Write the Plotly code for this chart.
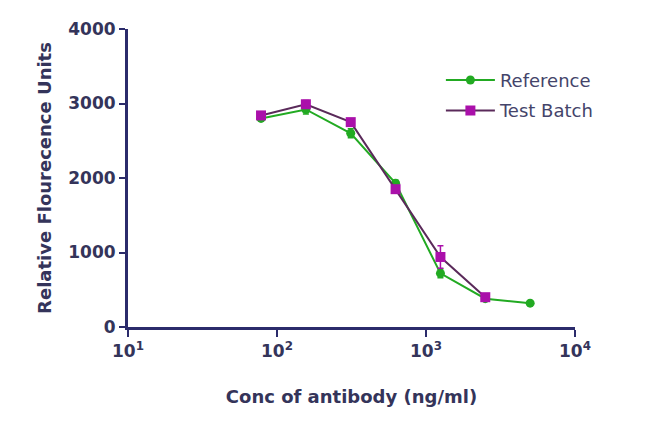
import plotly.graph_objects as go

conc_ref = [78.125, 156.25, 312.5, 625, 1250, 2500, 5000]
rfu_ref = [2800, 2920, 2600, 1930, 720, 380, 320]
err_ref = [30, 60, 60, 40, 60, 30, 20]

conc_test = [78.125, 156.25, 312.5, 625, 1250, 2500]
rfu_test = [2840, 2990, 2750, 1850, 940, 400]
err_test = [40, 50, 40, 40, 150, 30]

x_tickvals = [10, 100, 1000, 10000]
x_ticktext = ["10<sup>1</sup>", "10<sup>2</sup>", "10<sup>3</sup>", "10<sup>4</sup>"]
y_tickvals = [0, 1000, 2000, 3000, 4000]

GREEN = "#22aa22"
MAGENTA = "#aa10aa"
NAVY = "#2b2b6b"
TEXT = "#34345a"
FONT = "DejaVu Sans"

fig = go.Figure()
fig.add_trace(go.Scatter(
    x=conc_ref, y=rfu_ref, name="Reference", mode="lines+markers",
    line=dict(color=GREEN, width=2),
    marker=dict(symbol="circle", size=9, color=GREEN),
    error_y=dict(type="data", array=err_ref, color=GREEN, thickness=1.5, width=3),
    legendgroup="a",
))
fig.add_trace(go.Scatter(
    x=conc_test, y=rfu_test, name="Test Batch", mode="lines+markers",
    line=dict(color="#5a2a5a", width=2),
    marker=dict(symbol="square", size=10, color=MAGENTA),
    error_y=dict(type="data", array=err_test, color=MAGENTA, thickness=1.5, width=3),
    legendgroup="b",
))

fig.update_layout(
    width=650, height=433,
    margin=dict(l=128, r=75, t=29, b=106),
    paper_bgcolor="white", plot_bgcolor="white",
    font=dict(family=FONT, color=TEXT, size=16),
    showlegend=True,
    legend=dict(
        x=0.70, y=0.89, xanchor="left", yanchor="top",
        font=dict(family=FONT, size=18, color="#44446a"),
        bgcolor="rgba(0,0,0,0)", tracegroupgap=4, itemwidth=49,
    ),
    xaxis=dict(
        type="log", range=[1, 4],
        tickmode="array", tickvals=x_tickvals, ticktext=x_ticktext,
        showgrid=False, zeroline=False,
        showline=True, linecolor=NAVY, linewidth=3,
        ticks="outside", tickcolor=NAVY, tickwidth=2, ticklen=7,
        tickfont=dict(family=FONT, size=17, color=TEXT, weight="bold"),
        title=dict(text="<b>Conc of antibody (ng/ml)</b>", standoff=30,
                   font=dict(family=FONT, size=18, color=TEXT)),
    ),
    yaxis=dict(
        range=[0, 4000],
        tickmode="array", tickvals=y_tickvals,
        showgrid=False, zeroline=False,
        showline=True, linecolor=NAVY, linewidth=3,
        ticks="outside", tickcolor=NAVY, tickwidth=2, ticklen=6,
        tickfont=dict(family=FONT, size=17, color=TEXT, weight="bold"),
        title=dict(text="<b>Relative Flourecence Units</b>", standoff=12,
                   font=dict(family=FONT, size=18, color=TEXT)),
    ),
)

fig.write_html("out.html")
